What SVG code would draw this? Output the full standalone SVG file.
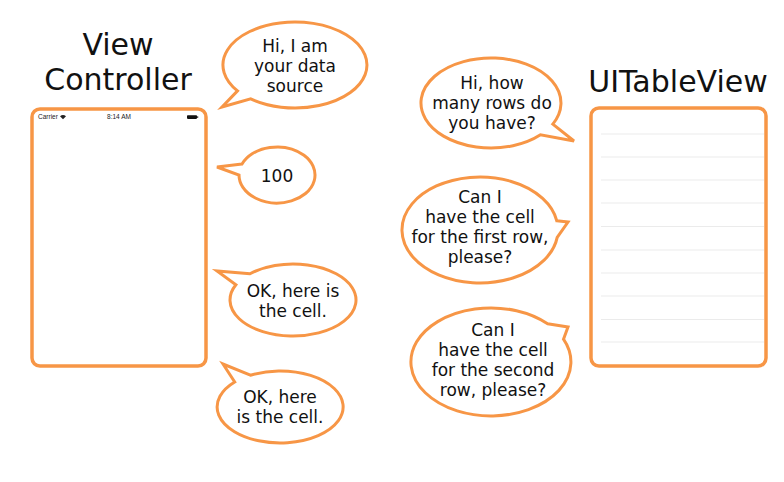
<svg xmlns="http://www.w3.org/2000/svg" width="784" height="482" viewBox="0 0 784 482">
<style>
.title{font-family:"DejaVu Sans",Verdana,sans-serif;font-size:30px;fill:#111;text-anchor:middle}
.bt{font-family:"DejaVu Sans",Verdana,sans-serif;font-size:17px;fill:#111;text-anchor:middle}
.bubble{fill:#fff;stroke:#F79646;stroke-width:3;stroke-linejoin:miter}
.frame{fill:#fff;stroke:#F79646;stroke-width:3.5}
.sb{font-family:"Liberation Sans",Arial,sans-serif;font-size:6.5px;fill:#222}
.row{stroke:#EBEBEB;stroke-width:1}
</style>
<rect width="784" height="482" fill="#fff"/>

<g id="vc-title">
<text class="title" x="118" y="55">View</text>
<text class="title" x="118" y="90">Controller</text>
</g>
<g id="tv-title">
<text class="title" x="678" y="92">UITableView</text>
</g>

<g id="view-controller">
<rect class="frame" x="32" y="109" width="174" height="257" rx="8"/>
<text class="sb" x="38" y="119">Carrier</text>
<path d="M60 116.2 Q63 113.6 66 116.2 L63 119.2 Z" fill="#222"/>
<text class="sb" x="119" y="119" text-anchor="middle">8:14 AM</text>
<rect x="187" y="115.3" width="10" height="3.6" rx="0.8" fill="#111"/>
<rect x="197.2" y="116.3" width="1" height="1.6" fill="#111"/>
</g>

<g id="table-view">
<rect class="frame" x="591" y="108" width="175" height="258" rx="8"/>
<g class="row">
<line x1="601" y1="134" x2="764" y2="134"/>
<line x1="601" y1="157" x2="764" y2="157"/>
<line x1="601" y1="180" x2="764" y2="180"/>
<line x1="601" y1="203" x2="764" y2="203"/>
<line x1="601" y1="226.5" x2="764" y2="226.5"/>
<line x1="601" y1="250" x2="764" y2="250"/>
<line x1="601" y1="273" x2="764" y2="273"/>
<line x1="601" y1="296" x2="764" y2="296"/>
<line x1="601" y1="319.5" x2="764" y2="319.5"/>
<line x1="601" y1="342" x2="764" y2="342"/>
</g>
</g>

<g id="bubble-data-source">
<path class="bubble" d="M237.5 90.9 L222 107 L250.7 98.9 A72 43 0 1 0 237.5 90.9 Z"/>
<text class="bt" x="295" y="52">Hi, I am</text>
<text class="bt" x="295" y="72">your data</text>
<text class="bt" x="295" y="92">source</text>
</g>

<g id="bubble-100">
<path class="bubble" d="M242 164.1 L217 167 L239 175 A38 28 0 1 0 242 164.1 Z"/>
<text class="bt" x="277" y="182">100</text>
</g>

<g id="bubble-cell-1">
<path class="bubble" d="M250 273.7 L217 271 L235.9 284.8 A63 36 0 1 0 250 273.7 Z"/>
<text class="bt" x="293" y="297">OK, here is</text>
<text class="bt" x="293" y="317">the cell.</text>
</g>

<g id="bubble-cell-2">
<path class="bubble" d="M250.4 375.2 L223 364 L234.7 382 A63 36 0 1 0 250.4 375.2 Z"/>
<text class="bt" x="280" y="403">OK, here</text>
<text class="bt" x="280" y="423">is the cell.</text>
</g>

<g id="bubble-rows">
<path class="bubble" d="M552.8 124.1 L574 141 L540.5 134.8 A70 45 0 1 1 552.8 124.1 Z"/>
<text class="bt" x="492" y="89">Hi, how</text>
<text class="bt" x="492" y="109">many rows do</text>
<text class="bt" x="492" y="129">you have?</text>
</g>

<g id="bubble-first-row">
<path class="bubble" d="M556.8 220.8 L568 222 L557.2 237.4 A78 53 0 1 1 556.8 220.8 Z"/>
<text class="bt" x="480" y="203">Can I</text>
<text class="bt" x="480" y="223">have the cell</text>
<text class="bt" x="480" y="243">for the first row,</text>
<text class="bt" x="480" y="263">please?</text>
</g>

<g id="bubble-second-row">
<path class="bubble" d="M547.6 323.8 L568 327 L563.5 339.2 A80 54 0 1 1 547.6 323.8 Z"/>
<text class="bt" x="493" y="336">Can I</text>
<text class="bt" x="493" y="356">have the cell</text>
<text class="bt" x="493" y="376">for the second</text>
<text class="bt" x="493" y="396">row, please?</text>
</g>

<g id="connectors"></g>
</svg>
